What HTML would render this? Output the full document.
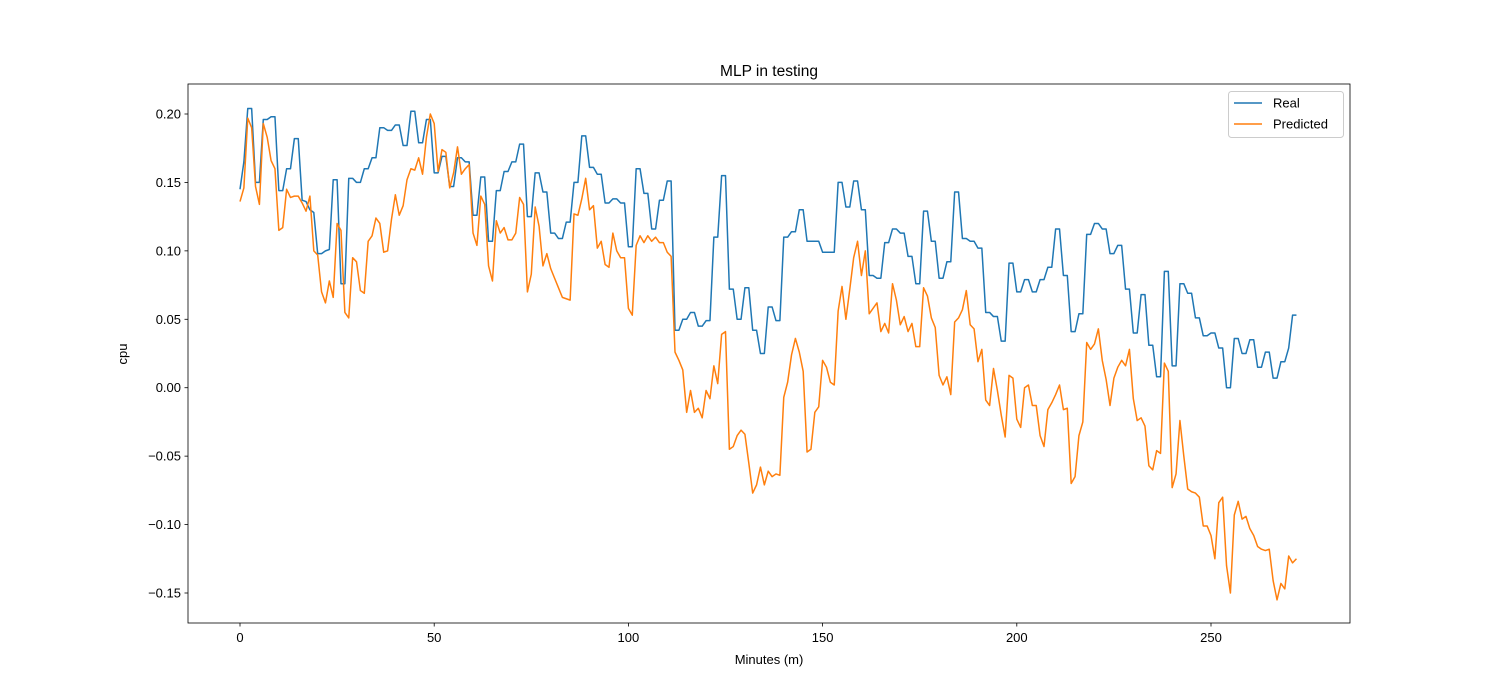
<!DOCTYPE html>
<html><head><meta charset="utf-8"><style>
body{margin:0;background:#fff;}
svg{display:block;font-family:"Liberation Sans","DejaVu Sans",sans-serif;}
</style></head><body>
<svg id="chart" width="1500" height="700">
<rect x="0" y="0" width="1500" height="700" fill="#fff"/>
<text x="769" y="76" font-size="15.5" text-anchor="middle">MLP in testing</text>
<text x="769" y="664" font-size="13" text-anchor="middle">Minutes (m)</text>
<text x="127" y="354" font-size="13" text-anchor="middle" transform="rotate(-90 127 354)">cpu</text>
<g id="plot"></g>
<rect x="188" y="84" width="1162" height="539" fill="none" stroke="#000" stroke-width="0.8"/>
<g>
<rect x="1228.5" y="91.5" width="115" height="46" rx="3" fill="#fff" fill-opacity="0.8" stroke="#ccc"/>
<line x1="1234" y1="103" x2="1262" y2="103" stroke="#1f77b4" stroke-width="1.5"/>
<text x="1273" y="107.5" font-size="13">Real</text>
<line x1="1234" y1="124" x2="1262" y2="124" stroke="#ff7f0e" stroke-width="1.5"/>
<text x="1273" y="128.5" font-size="13">Predicted</text>
</g>
</svg>
<script>
const xTicks=[0,50,100,150,200,250];
const yTicks=[-0.15,-0.10,-0.05,0.00,0.05,0.10,0.15,0.20];
const yTickLabels=["−0.15","−0.10","−0.05","0.00","0.05","0.10","0.15","0.20"];
const realValues=[0.145,0.165,0.204,0.204,0.15,0.15,0.196,0.196,0.198,0.198,0.144,0.144,0.16,0.16,0.182,0.182,0.137,0.136,0.13,0.128,0.098,0.098,0.1,0.101,0.152,0.152,0.076,0.076,0.153,0.153,0.15,0.15,0.16,0.16,0.168,0.168,0.19,0.19,0.188,0.188,0.192,0.192,0.177,0.177,0.202,0.202,0.179,0.179,0.196,0.196,0.157,0.157,0.169,0.169,0.147,0.147,0.168,0.168,0.165,0.165,0.126,0.126,0.154,0.154,0.107,0.107,0.144,0.144,0.158,0.158,0.165,0.165,0.178,0.178,0.125,0.125,0.157,0.157,0.143,0.143,0.113,0.113,0.109,0.109,0.121,0.121,0.15,0.15,0.184,0.184,0.161,0.161,0.156,0.156,0.135,0.135,0.138,0.138,0.135,0.135,0.103,0.103,0.16,0.16,0.142,0.142,0.116,0.116,0.137,0.137,0.151,0.151,0.042,0.042,0.05,0.05,0.055,0.055,0.045,0.045,0.049,0.049,0.11,0.11,0.155,0.155,0.072,0.072,0.05,0.05,0.073,0.073,0.042,0.042,0.025,0.025,0.059,0.059,0.049,0.049,0.11,0.11,0.114,0.114,0.13,0.13,0.107,0.107,0.107,0.107,0.099,0.099,0.099,0.099,0.15,0.15,0.132,0.132,0.151,0.151,0.13,0.13,0.082,0.082,0.08,0.08,0.106,0.106,0.116,0.116,0.113,0.113,0.096,0.096,0.076,0.076,0.129,0.129,0.107,0.107,0.08,0.08,0.092,0.092,0.143,0.143,0.109,0.109,0.107,0.107,0.102,0.102,0.055,0.055,0.052,0.052,0.034,0.034,0.091,0.091,0.07,0.07,0.079,0.079,0.07,0.07,0.079,0.079,0.088,0.088,0.116,0.116,0.082,0.082,0.041,0.041,0.054,0.054,0.112,0.112,0.12,0.12,0.116,0.116,0.098,0.098,0.104,0.104,0.072,0.072,0.04,0.04,0.068,0.068,0.031,0.031,0.008,0.008,0.085,0.085,0.016,0.016,0.076,0.076,0.069,0.069,0.051,0.051,0.038,0.038,0.04,0.04,0.029,0.029,0.0,0.0,0.036,0.036,0.025,0.025,0.035,0.035,0.015,0.015,0.026,0.026,0.007,0.007,0.019,0.019,0.029,0.053,0.053];
const predictedValues=[0.136,0.146,0.197,0.19,0.147,0.134,0.193,0.183,0.166,0.16,0.115,0.117,0.145,0.139,0.14,0.14,0.135,0.129,0.14,0.1,0.097,0.07,0.062,0.078,0.066,0.12,0.115,0.055,0.051,0.095,0.092,0.071,0.069,0.107,0.111,0.124,0.12,0.099,0.1,0.123,0.141,0.126,0.133,0.152,0.16,0.159,0.168,0.156,0.183,0.2,0.193,0.158,0.174,0.172,0.146,0.157,0.176,0.156,0.16,0.163,0.113,0.104,0.14,0.134,0.089,0.078,0.122,0.113,0.117,0.108,0.108,0.113,0.139,0.134,0.07,0.083,0.132,0.118,0.089,0.098,0.087,0.08,0.073,0.066,0.065,0.064,0.127,0.126,0.138,0.153,0.13,0.133,0.102,0.107,0.09,0.088,0.113,0.1,0.095,0.095,0.058,0.053,0.104,0.111,0.106,0.111,0.107,0.11,0.106,0.106,0.099,0.096,0.026,0.02,0.013,-0.018,-0.002,-0.018,-0.015,-0.022,-0.002,-0.008,0.016,0.003,0.039,0.041,-0.045,-0.043,-0.035,-0.031,-0.034,-0.055,-0.077,-0.071,-0.058,-0.071,-0.061,-0.065,-0.063,-0.064,-0.007,0.004,0.024,0.036,0.026,0.012,-0.047,-0.045,-0.018,-0.014,0.02,0.015,0.004,0.002,0.056,0.074,0.05,0.072,0.095,0.107,0.082,0.1,0.054,0.058,0.062,0.041,0.047,0.04,0.076,0.064,0.046,0.052,0.041,0.047,0.03,0.03,0.073,0.067,0.051,0.044,0.009,0.002,0.008,-0.005,0.048,0.051,0.057,0.071,0.046,0.043,0.019,0.028,-0.009,-0.013,0.014,-0.002,-0.02,-0.036,0.009,0.007,-0.023,-0.029,0.0,0.002,-0.013,-0.013,-0.035,-0.043,-0.016,-0.011,-0.005,0.002,-0.016,-0.015,-0.07,-0.065,-0.035,-0.025,0.033,0.028,0.032,0.043,0.02,0.006,-0.013,0.007,0.015,0.02,0.016,0.028,-0.008,-0.024,-0.022,-0.028,-0.057,-0.06,-0.046,-0.048,0.018,0.012,-0.073,-0.063,-0.024,-0.05,-0.074,-0.076,-0.077,-0.08,-0.101,-0.101,-0.108,-0.125,-0.084,-0.08,-0.13,-0.15,-0.093,-0.083,-0.096,-0.094,-0.103,-0.108,-0.116,-0.118,-0.119,-0.118,-0.141,-0.155,-0.143,-0.147,-0.123,-0.128,-0.125];

const NS="http://www.w3.org/2000/svg";
const svg=document.getElementById('chart');
const plot=document.getElementById('plot');
const X=v=>240+v*(971/250);
const Y=v=>114+(0.2-v)*(479/0.35);

xTicks.forEach(t=>{
  const l=document.createElementNS(NS,'line');
  l.setAttribute('x1',X(t));l.setAttribute('x2',X(t));l.setAttribute('y1',623);l.setAttribute('y2',626.5);
  l.setAttribute('stroke','#000');l.setAttribute('stroke-width','0.8');
  
  
  svg.appendChild(l);
  const tx=document.createElementNS(NS,'text');
  tx.setAttribute('x',X(t));tx.setAttribute('y',642);tx.setAttribute('font-size','13');tx.setAttribute('text-anchor','middle');
  tx.textContent=String(t);
  
  
  svg.appendChild(tx);
});
yTicks.forEach((t,i)=>{
  const l=document.createElementNS(NS,'line');
  l.setAttribute('x1',184.5);l.setAttribute('x2',188);l.setAttribute('y1',Y(t));l.setAttribute('y2',Y(t));
  l.setAttribute('stroke','#000');l.setAttribute('stroke-width','0.8');
  
  
  svg.appendChild(l);
  const tx=document.createElementNS(NS,'text');
  tx.setAttribute('x',181);tx.setAttribute('y',Y(t)+4.5);tx.setAttribute('font-size','13');tx.setAttribute('text-anchor','end');
  tx.textContent=yTickLabels[i];
  
  
  svg.appendChild(tx);
});
function drawLine(vals,color,name){
  const p=document.createElementNS(NS,'polyline');
  p.setAttribute('points',vals.map((v,i)=>X(i).toFixed(2)+','+Y(v).toFixed(2)).join(' '));
  p.setAttribute('fill','none');p.setAttribute('stroke',color);p.setAttribute('stroke-width','1.5');
  p.setAttribute('stroke-linejoin','round');
  
  
  plot.appendChild(p);
}
drawLine(realValues,'#1f77b4','real-series-line');
drawLine(predictedValues,'#ff7f0e','predicted-series-line');
</script>
</body></html>
